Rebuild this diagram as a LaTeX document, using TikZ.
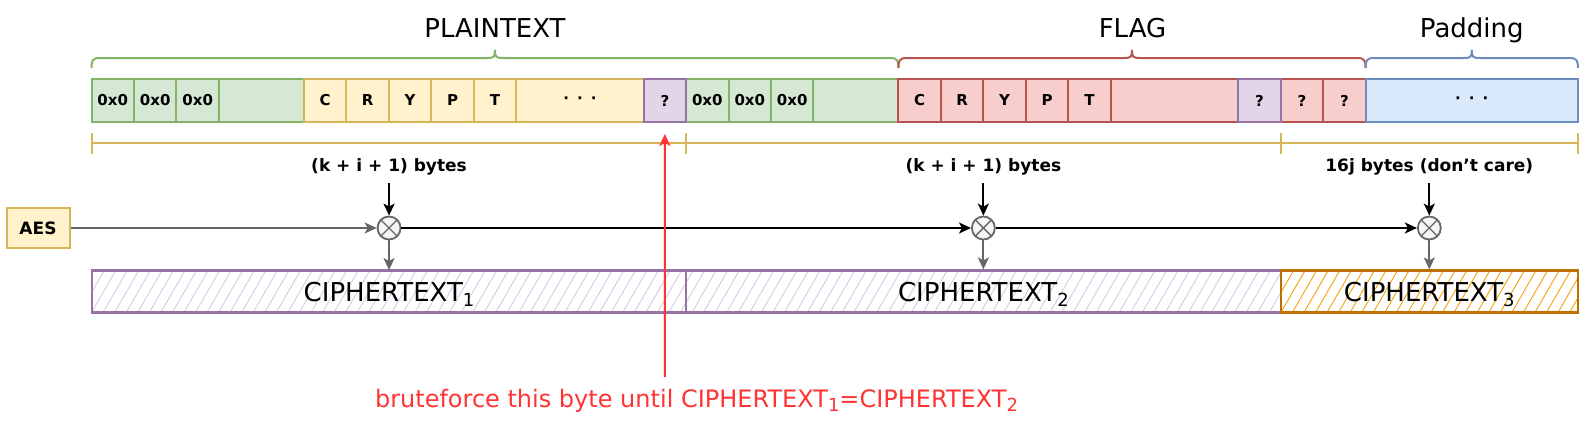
\documentclass[tikz,border=0pt]{standalone}
\usepackage{fontspec}
\setmainfont{DejaVu Sans}
\usetikzlibrary{arrows.meta,patterns.meta}
\definecolor{gfill}{HTML}{D5E8D4}\definecolor{gline}{HTML}{82B366}
\definecolor{yfill}{HTML}{FFF2CC}\definecolor{yline}{HTML}{D6B656}
\definecolor{pfill}{HTML}{E1D5E7}\definecolor{pline}{HTML}{9673A6}
\definecolor{rfill}{HTML}{F8CECC}\definecolor{rline}{HTML}{B85450}
\definecolor{bfill}{HTML}{DAE8FC}\definecolor{bline}{HTML}{6C8EBF}
\definecolor{xgray}{HTML}{666666}\definecolor{xfill}{HTML}{F5F5F5}
\definecolor{hatchp}{HTML}{D8C8E2}\definecolor{hatcho}{HTML}{F0A30A}
\definecolor{oline}{HTML}{BD7000}\definecolor{redc}{HTML}{FF3333}
\newcommand{\bigf}{\fontsize{26}{30}\selectfont}
\newcommand{\redf}{\fontsize{24}{28}\selectfont}
\newcommand{\cellf}{\fontsize{15}{17}\selectfont\bfseries}
\newcommand{\lblf}{\fontsize{17}{20}\selectfont\bfseries}
\newcommand{\lowsub}[1]{\raisebox{-0.35ex}{\fontsize{18}{18}\selectfont #1}}
\newcommand{\dotsx}{·\hspace{8pt}·\hspace{8pt}·}
\newcommand{\bytecell}[5]{\node[#4, minimum width={#3*42.47pt}] (#1) at ({91.5+(#2+#3/2)*42.47},100.5) {#5};}
\newcommand{\curly}[3]{%
  \draw[#1, line width=2pt] (#2,68) .. controls (#2,61) and ({#2+1},58) .. ({#2+8},58)
    -- ({(#2+#3)/2-8},58) .. controls ({(#2+#3)/2-1},58) and ({(#2+#3)/2},57) .. ({(#2+#3)/2},50)
    .. controls ({(#2+#3)/2},57) and ({(#2+#3)/2+1},58) .. ({(#2+#3)/2+8},58)
    -- ({#3-8},58) .. controls ({#3-1},58) and (#3,61) .. (#3,68);}
\begin{document}
\begin{tikzpicture}[x=1pt,y=-1pt,
  cell/.style={line width=2pt, minimum height=43pt, inner sep=0pt, font=\cellf},
  gcell/.style={cell, fill=gfill, draw=gline},
  ycell/.style={cell, fill=yfill, draw=yline},
  pcell/.style={cell, fill=pfill, draw=pline},
  rcell/.style={cell, fill=rfill, draw=rline},
  bcell/.style={cell, fill=bfill, draw=bline},
  title/.style={font=\bigf, anchor=base},
  lbl/.style={font=\lblf, anchor=base},
  xorop/.style={circle, draw=xgray, fill=xfill, line width=1.8pt, minimum size=23pt, inner sep=0pt,
    path picture={\draw[xgray, line width=1.3pt]
      (path picture bounding box.north west) -- (path picture bounding box.south east)
      (path picture bounding box.south west) -- (path picture bounding box.north east);}},
  tip/.style={-{Stealth[length=12pt,width=11pt,inset=3pt]}},
  grayarrow/.style={tip, draw=xgray, fill=xgray, line width=2pt},
  blkarrow/.style={tip, draw=black, line width=2pt},
  ctbox/.style={draw=pline, line width=2.2pt, minimum height=42pt, inner sep=0pt, font=\bigf,
    text depth=0pt, pattern={Lines[angle=60,distance=10pt,line width=0.9pt]}, pattern color=hatchp},
  ctbox3/.style={ctbox, draw=oline, pattern color=hatcho},
  aesbox/.style={draw=yline, fill=yfill, line width=2pt, minimum width=63pt, minimum height=40pt,
    font=\fontsize{17}{20}\selectfont\bfseries}
]
\useasboundingbox (0,0) rectangle (1593,431);

% titles and braces
\node[title] (tplain) at (495,37) {PLAINTEXT};
\node[title] (tflag) at (1132.5,37) {FLAG};
\node[title] (tpad) at (1471.8,37) {Padding};
\curly{gline}{91.5}{898.43}
\curly{rline}{898.43}{1365.6}
\curly{bline}{1365.6}{1577.95}

% byte row
\bytecell{c1}{0}{1}{gcell}{0x0}
\bytecell{c2}{1}{1}{gcell}{0x0}
\bytecell{c3}{2}{1}{gcell}{0x0}
\bytecell{c4}{3}{2}{gcell}{}
\bytecell{c12}{14}{1}{gcell}{0x0}
\bytecell{c13}{15}{1}{gcell}{0x0}
\bytecell{c14}{16}{1}{gcell}{0x0}
\bytecell{c15}{17}{2}{gcell}{}
\bytecell{c5}{5}{1}{ycell}{C}
\bytecell{c6}{6}{1}{ycell}{R}
\bytecell{c7}{7}{1}{ycell}{Y}
\bytecell{c8}{8}{1}{ycell}{P}
\bytecell{c9}{9}{1}{ycell}{T}
\bytecell{c10}{10}{3}{ycell}{\dotsx}
\bytecell{c16}{19}{1}{rcell}{C}
\bytecell{c17}{20}{1}{rcell}{R}
\bytecell{c18}{21}{1}{rcell}{Y}
\bytecell{c19}{22}{1}{rcell}{P}
\bytecell{c20}{23}{1}{rcell}{T}
\bytecell{c21}{24}{3}{rcell}{}
\bytecell{c23}{28}{1}{rcell}{?}
\bytecell{c24}{29}{1}{rcell}{?}
\bytecell{c25}{30}{5}{bcell}{\dotsx}
\bytecell{q1}{13}{1}{pcell}{?}
\bytecell{q2}{27}{1}{pcell}{?}

% dimension line
\draw[yline, line width=2pt] (91.5,143) -- (1577.95,143);
\foreach \x in {91.5,686.08,1280.66,1577.95}
  \draw[yline, line width=2pt] (\x,133) -- (\x,154);

% labels
\node[lbl] (l1) at (389.04,171) {(k + i + 1) bytes};
\node[lbl] (l2) at (983.37,171) {(k + i + 1) bytes};
\node[lbl] (l3) at (1429.3,171) {16j bytes (don't care)};

% AES and xor
\node[aesbox] (aes) at (38,228) {AES};
\node[xorop] (x1) at (389.04,228) {};
\node[xorop] (x2) at (983.37,228) {};
\node[xorop] (x3) at (1429.3,228) {};

% ciphertext boxes
\node[ctbox] (ct1) at (389.04,291.5) [minimum width=594.58pt] {CIPHERTEXT\lowsub{1}};
\node[ctbox] (ct2) at (983.37,291.5) [minimum width=594.58pt] {CIPHERTEXT\lowsub{2}};
\node[ctbox3] (ct3) at (1429.3,291.5) [minimum width=297.29pt] {CIPHERTEXT\lowsub{3}};

% connectors
\draw[grayarrow] (aes) -- (x1);
\draw[blkarrow] (x1) -- (x2);
\draw[blkarrow] (x2) -- (x3);
\foreach \i in {1,2,3} {
  \draw[blkarrow, shorten <=5pt] (l\i) -- (x\i);
  \draw[grayarrow] (x\i) -- (ct\i);
}

% red annotation
\node[font=\redf, text=redc, anchor=base] (note) at (696.5,407)
  {bruteforce this byte until CIPHERTEXT\lowsub{1}=CIPHERTEXT\lowsub{2}};
\coordinate (rstart) at (664.9,377);
\draw[tip, draw=redc, fill=redc, line width=2pt, shorten >=11pt] (rstart) -- (q1.south);
\end{tikzpicture}
\end{document}
